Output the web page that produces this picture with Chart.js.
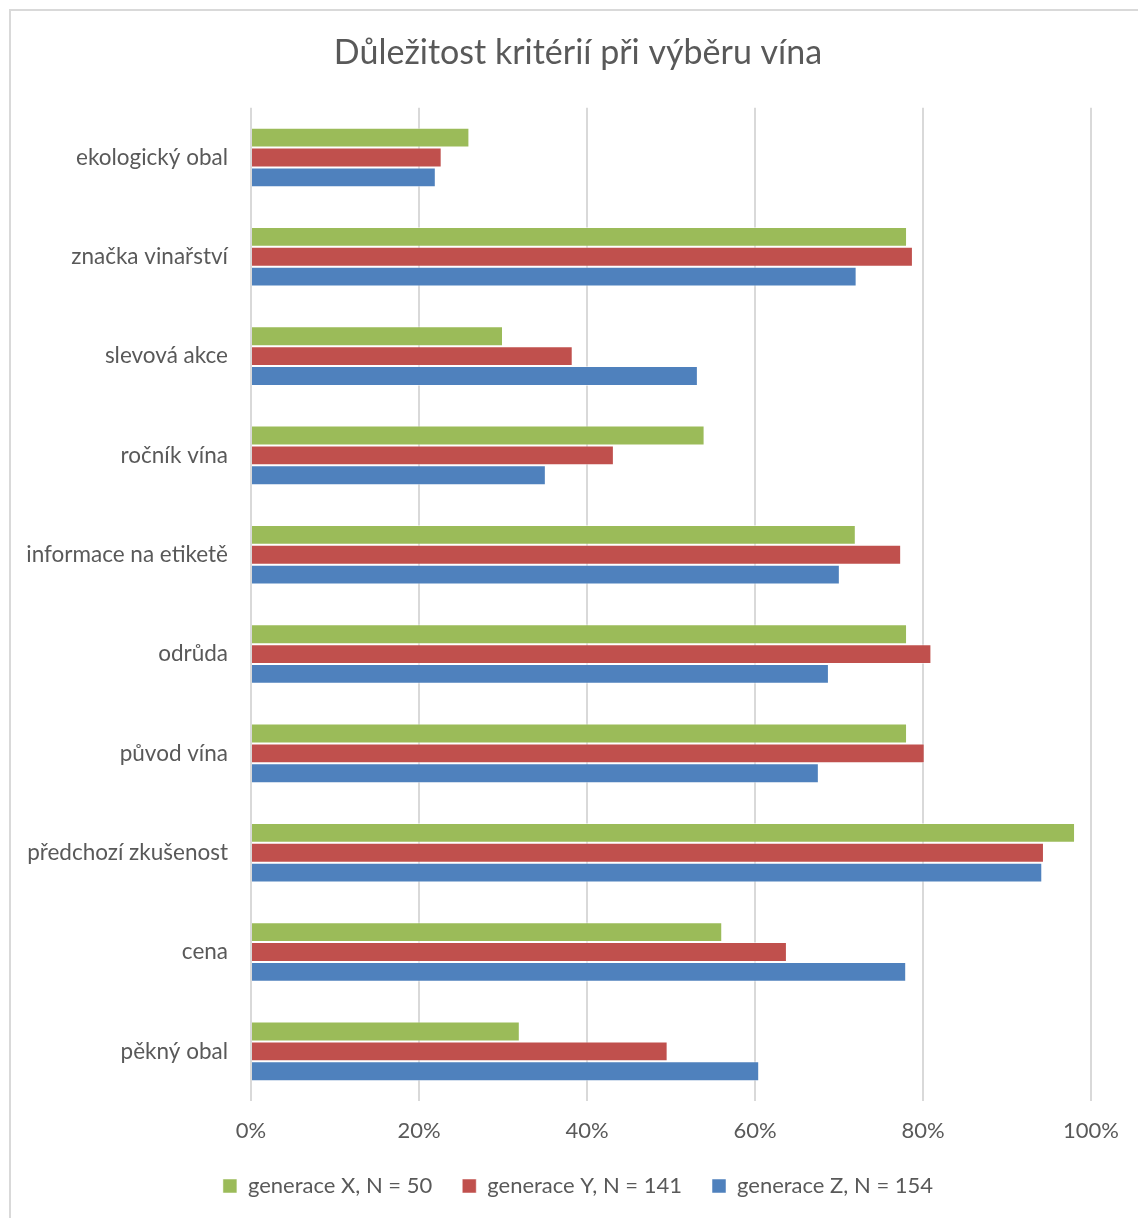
<!DOCTYPE html>
<html>
<head>
<meta charset="utf-8">
<script src="https://cdn.jsdelivr.net/npm/chart.js@4.4.1/dist/chart.umd.min.js"></script>
<style>
  html, body { margin: 0; padding: 0; background: #ffffff; }
  #wrap { position: absolute; left: 0; top: 0; width: 1138px; height: 1218px; }
</style>
</head>
<body>
<div id="wrap"><canvas id="c" width="1138" height="1218"></canvas></div>
<script>
const categories = ["ekologický obal", "značka vinařství", "slevová akce", "ročník vína", "informace na etiketě", "odrůda", "původ vína", "předchozí zkušenost", "cena", "pěkný obal"];
const genX = [26, 78.1, 30, 54, 72, 78.1, 78.1, 98.1, 56.1, 32];
const genY = [22.7, 78.8, 38.3, 43.2, 77.4, 81, 80.2, 94.4, 63.8, 49.6];
const genZ = [22, 72.1, 53.2, 35.1, 70.1, 68.8, 67.6, 94.2, 78, 60.5];
const seriesLabels = ["generace X, N = 50", "generace Y, N = 141", "generace Z, N = 154"];
const titleText = "Důležitost kritérií při výběru vína";

const FONT = "Lato, 'Open Sans', sans-serif";
const TXT = "#595959";

const framePlugin = {
  id: 'frame',
  beforeDraw(chart) {
    const ctx = chart.ctx;
    ctx.save();
    ctx.fillStyle = '#ffffff';
    ctx.fillRect(0, 0, chart.width, chart.height);
    ctx.strokeStyle = '#d9d9d9';
    ctx.lineWidth = 2;
    ctx.strokeRect(10, 10, chart.width + 20, chart.height + 20);
    ctx.restore();
  }
};

new Chart(document.getElementById('c'), {
  type: 'bar',
  data: {
    labels: categories,
    datasets: [
      { label: seriesLabels[0], data: genX, backgroundColor: '#9BBB59', borderColor: 'rgba(255,255,255,0.5)', borderWidth: 1 },
      { label: seriesLabels[1], data: genY, backgroundColor: '#C0504D', borderColor: 'rgba(255,255,255,0.5)', borderWidth: 1 },
      { label: seriesLabels[2], data: genZ, backgroundColor: '#4F81BD', borderColor: 'rgba(255,255,255,0.5)', borderWidth: 1 }
    ]
  },
  options: {
    indexAxis: 'y',
    responsive: false,
    animation: false,
    devicePixelRatio: 1,
    categoryPercentage: 0.6,
    barPercentage: 1.0,
    layout: { padding: { top: 0, left: 18, right: 0, bottom: 11 } },
    plugins: {
      title: {
        display: true,
        text: titleText,
        color: TXT,
        font: { family: FONT, size: 34, weight: 'normal' },
        padding: { top: 33, bottom: 34 }
      },
      legend: {
        position: 'bottom',
        labels: {
          color: TXT,
          font: { family: FONT, size: 22 },
          boxWidth: 14,
          boxHeight: 14,
          padding: 30
        }
      },
      tooltip: { enabled: false }
    },
    scales: {
      x: {
        min: 0,
        max: 100,
        ticks: {
          stepSize: 20,
          color: TXT,
          font: { family: FONT, size: 22 },
          padding: 17,
          callback: v => v + '%'
        },
        grid: { color: '#d9d9d9', lineWidth: 2, drawTicks: false },
        border: { display: false },
        afterFit: s => { s.height = 44; s.paddingRight = 47; s.paddingLeft = 0; }
      },
      y: {
        ticks: {
          color: TXT,
          font: { family: FONT, size: 22.5 },
          padding: 23
        },
        grid: { display: false, drawTicks: false },
        border: { display: false },
        afterFit: s => { s.width = 233; }
      }
    }
  },
  plugins: [framePlugin]
});
</script>
</body>
</html>
